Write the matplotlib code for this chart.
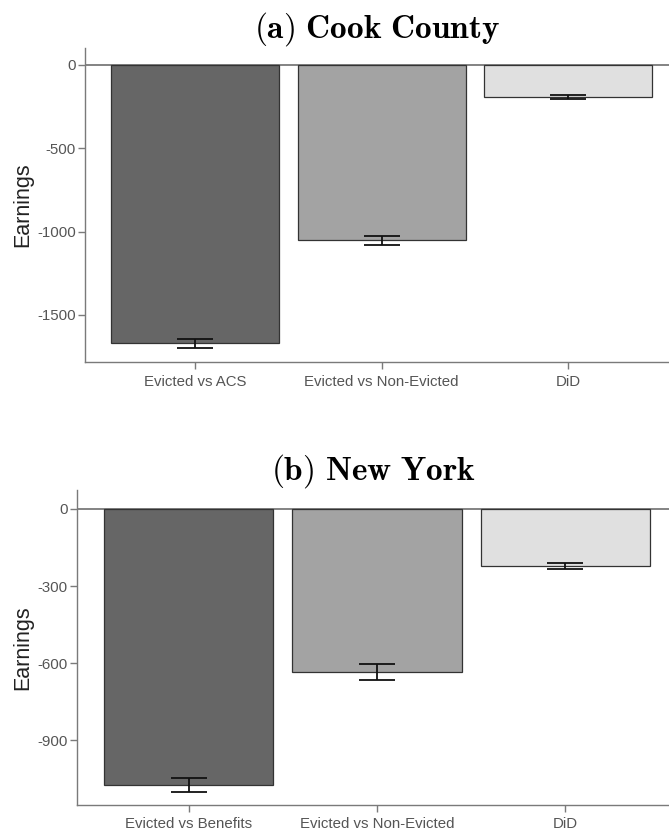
import matplotlib
matplotlib.use("Agg")
import matplotlib.pyplot as plt

plt.rcParams['font.family'] = ['Liberation Sans', 'DejaVu Sans']
plt.rcParams['mathtext.fontset'] = 'cm'

# Data
cook_labels = ["Evicted vs ACS", "Evicted vs Non-Evicted", "DiD"]
cook_values = [-1669, -1050, -192]
cook_err = [27, 27, 14]
cook_yticks = [0, -500, -1000, -1500]

ny_labels = ["Evicted vs Benefits", "Evicted vs Non-Evicted", "DiD"]
ny_values = [-1075, -635, -222]
ny_err = [28, 31, 11]
ny_yticks = [0, -300, -600, -900]

bar_colors = ["#666666", "#a3a3a3", "#e0e0e0"]
gray = "#7a7a7a"
txt = "#555555"

fig = plt.figure(figsize=(6.69, 8.32), dpi=100)

def panel(rect, labels, values, errs, yticks, ylim, xlim, title):
    ax = fig.add_axes(rect)
    x = list(range(len(labels)))
    ax.bar(x, values, width=0.9, color=bar_colors, edgecolor="#333333", linewidth=0.9, zorder=2)
    ax.errorbar(x, values, yerr=errs, fmt='none', ecolor='#111111', elinewidth=1.3,
                capsize=13, capthick=1.3, zorder=3)
    ax.axhline(0, color=gray, linewidth=1.3, zorder=1)
    ax.set_xlim(*xlim)
    ax.set_ylim(*ylim)
    ax.set_xticks(x)
    ax.set_xticklabels(labels)
    ax.set_yticks(yticks)
    ax.set_yticklabels([str(t) for t in yticks])
    for s in ['top', 'right']:
        ax.spines[s].set_visible(False)
    for s in ['left', 'bottom']:
        ax.spines[s].set_color(gray)
        ax.spines[s].set_linewidth(1.0)
    ax.tick_params(axis='both', colors=gray, labelcolor=txt, labelsize=10.8, length=5, width=1.0)
    ax.tick_params(axis='y', pad=1.5)
    ax.tick_params(axis='x', pad=4)
    ax.set_ylabel("Earnings", fontsize=15.5, color="#222222", labelpad=3)
    ax.set_title(title, fontsize=24, pad=5)
    return ax

panel([85/669, 1 - 362/832, 1 - 85/669, (362 - 48)/832], cook_labels, cook_values, cook_err,
      cook_yticks, (-1782, 102), (-0.59, 2.54), r'$\mathbf{(a)\ Cook\ County}$')
panel([77/669, 1 - 805/832, 1 - 77/669, (805 - 490)/832], ny_labels, ny_values, ny_err,
      ny_yticks, (-1153, 74), (-0.593, 2.55), r'$\mathbf{(b)\ New\ York}$')

fig.savefig("out.png", dpi=100)
